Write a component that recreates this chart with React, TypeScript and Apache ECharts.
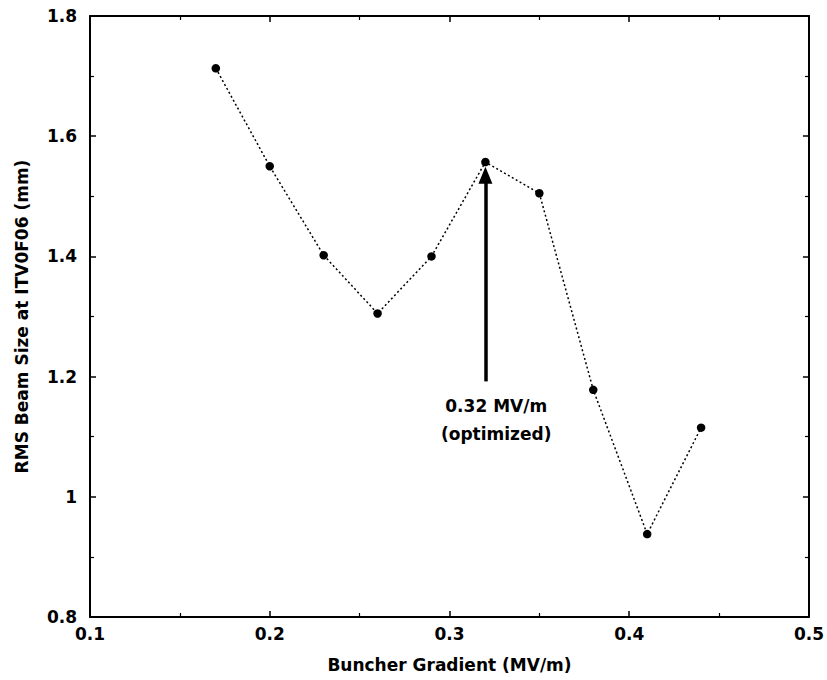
import React, { useEffect, useRef } from "react";
import * as echarts from "echarts";

const gradients = [0.17, 0.2, 0.23, 0.26, 0.29, 0.32, 0.35, 0.38, 0.41, 0.44];
const beamSizes = [1.713, 1.55, 1.402, 1.305, 1.4, 1.557, 1.505, 1.178, 0.938, 1.115];
const xTicks = { min: 0.1, max: 0.5, interval: 0.1 };
const yTicks = { min: 0.8, max: 1.8, interval: 0.2 };
const arrowX = 0.32;
const arrowFrom = 1.192;
const arrowTo = 1.535;
const noteAt = [0.326, 1.128];
const noteText = "0.32 MV/m\n(optimized)";
const xName = "Buncher Gradient (MV/m)";
const yName = "RMS Beam Size at ITV0F06 (mm)";

const FONT = "DejaVu Sans";

export default function App() {
  const ref = useRef<HTMLDivElement>(null);
  useEffect(() => {
    if (!ref.current) return;
    const chart = echarts.init(ref.current, null, { renderer: "svg" });
    const axisLine = { show: true, lineStyle: { color: "#000", width: 2 } };
    const axisTick = { show: true, inside: true, length: 6, lineStyle: { color: "#000", width: 1.5 } };
    const minorTick = { show: true, splitNumber: 2, length: 4, lineStyle: { color: "#000", width: 1.2 } };
    const label = { color: "#000", fontFamily: FONT, fontSize: 17, fontWeight: "bold" as const };
    const nameStyle = { color: "#000", fontFamily: FONT, fontSize: 17, fontWeight: "bold" as const };
    chart.setOption({
      animation: false,
      backgroundColor: "#fff",
      grid: { left: 90, top: 16, right: 17, bottom: 63, containLabel: false },
      xAxis: [
        {
          type: "value",
          ...xTicks,
          position: "bottom",
          name: xName,
          nameLocation: "middle",
          nameGap: 39,
          nameTextStyle: nameStyle,
          axisLine,
          axisTick,
          minorTick,
          splitLine: { show: false },
          axisLabel: { ...label, margin: 8 },
        },
        {
          type: "value",
          ...xTicks,
          position: "top",
          axisLine,
          axisTick,
          minorTick,
          splitLine: { show: false },
          axisLabel: { show: false },
        },
      ],
      yAxis: [
        {
          type: "value",
          ...yTicks,
          position: "left",
          name: yName,
          nameLocation: "middle",
          nameRotate: 90,
          nameGap: 60,
          nameTextStyle: nameStyle,
          axisLine,
          axisTick,
          minorTick,
          splitLine: { show: false },
          axisLabel: { ...label, margin: 13 },
        },
        {
          type: "value",
          ...yTicks,
          position: "right",
          axisLine,
          axisTick,
          minorTick,
          splitLine: { show: false },
          axisLabel: { show: false },
        },
      ],
      series: [
        {
          type: "line",
          xAxisIndex: 0,
          yAxisIndex: 0,
          data: gradients.map((g, i) => [g, beamSizes[i]]),
          lineStyle: { color: "#000", width: 1.5, type: [2, 2.5] },
          symbol: "circle",
          symbolSize: 8.5,
          itemStyle: { color: "#000" },
          z: 3,
          markLine: {
            silent: true,
            symbol: ["none", "triangle"],
            symbolSize: [14, 17],
            label: { show: false },
            lineStyle: { color: "#000", width: 3.5, type: "solid" },
            data: [[{ coord: [arrowX, arrowFrom] }, { coord: [arrowX, arrowTo] }]],
          },
          markPoint: {
            silent: true,
            symbol: "circle",
            symbolSize: 1,
            itemStyle: { color: "rgba(0,0,0,0)" },
            label: {
              show: true,
              position: "inside",
              formatter: noteText,
              color: "#000",
              fontFamily: FONT,
              fontSize: 17,
              fontWeight: "bold",
              lineHeight: 28,
              align: "center",
            },
            data: [{ coord: noteAt }],
          },
        },
      ],
    });
    return () => chart.dispose();
  }, []);
  return <div ref={ref} style={{ width: 827, height: 680, position: "absolute", left: 0, top: 0 }} />;
}
